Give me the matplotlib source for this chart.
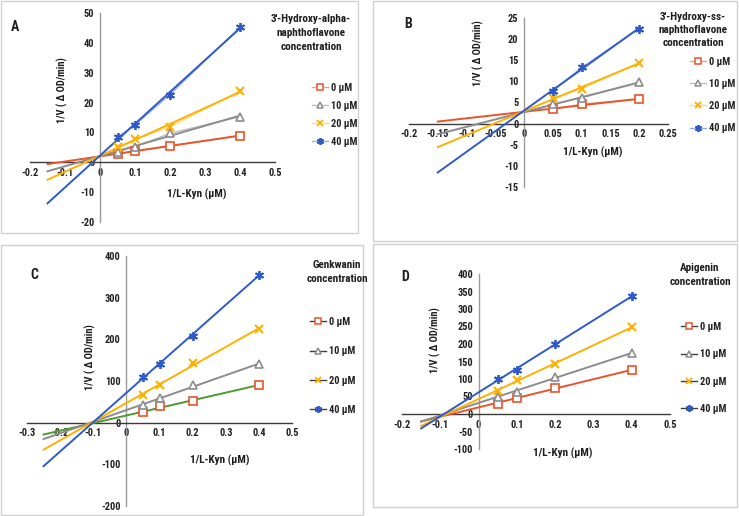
import numpy as np
import matplotlib
matplotlib.use("Agg")
import matplotlib.pyplot as plt
from matplotlib.lines import Line2D
from matplotlib.patches import Rectangle
from matplotlib.ticker import FuncFormatter
from matplotlib import font_manager

# ---------------- data ----------------
conc_labels = ["0 µM", "10 µM", "20 µM", "40 µM"]

# Panel A: 3'-Hydroxy-alpha-naphthoflavone
a_x = [0.05, 0.1, 0.2, 0.4]
a_0 = [2.7, 3.9, 5.5, 8.9]
a_10 = [3.5, 5.2, 9.7, 15.3]
a_20 = [5.2, 7.7, 11.9, 23.9]
a_40 = [8.4, 12.5, 22.7, 45.3]

# Panel B: 3'-Hydroxy-ss-naphthoflavone
b_x = [0.05, 0.1, 0.2]
b_0 = [3.4, 4.6, 5.8]
b_10 = [4.6, 6.1, 9.8]
b_20 = [6.0, 8.3, 14.4]
b_40 = [7.7, 13.3, 22.5]

# Panel C: Genkwanin
c_x = [0.05, 0.1, 0.2, 0.4]
c_0 = [25, 39, 51, 91]
c_10 = [42, 58, 90, 140]
c_20 = [67, 91, 143, 224]
c_40 = [110, 141, 208, 355]

# Panel D: Apigenin
d_x = [0.05, 0.1, 0.2, 0.4]
d_0 = [30, 47, 75, 125]
d_10 = [50, 64, 107, 173]
d_20 = [67, 97, 143, 248]
d_40 = [100, 126, 199, 337]

# ---------------- style ----------------
W, H = 739, 516
names = {f.name for f in font_manager.fontManager.ttflist}
cands = ["Roboto Condensed", "Liberation Sans Narrow", "Open Sans Condensed",
         "Noto Sans Condensed", "Lato"]
FAM = [c for c in cands if c in names][:1] or ["Lato"]
plt.rcParams["font.family"] = FAM + ["DejaVu Sans"]
narrow = FAM[0] != "Lato"
S = 1.0 if narrow else 0.85

fig = plt.figure(figsize=(W / 100, H / 100), dpi=100)

C_RED = "#E8552B"
C_GRAY = "#8C8C8C"
C_YEL = "#FFB000"
C_BLUE = "#2E5BC9"
C_GREEN = "#4E9A2E"
LIGHT = {C_RED: "#F3A07E", C_GRAY: "#BDBDBD", C_YEL: "#FFD97A", C_BLUE: "#93AEE8"}
STAR = (6, 2, 0)


def fx(x):
    return x / W


def fy(y):
    return 1 - y / H


def make_ax(px_left, px_top, px_right, px_bottom, xlim, ylim, xticks, yticks):
    ax = fig.add_axes([fx(px_left), fy(px_bottom), (px_right - px_left) / W,
                       (px_bottom - px_top) / H])
    ax.set_xlim(*xlim)
    ax.set_ylim(*ylim)
    ax.set_xticks(xticks)
    ax.set_yticks(yticks)
    ax.spines["left"].set_position(("data", 0))
    ax.spines["bottom"].set_position(("data", 0))
    ax.spines["right"].set_visible(False)
    ax.spines["top"].set_visible(False)
    ax.spines["left"].set_color("#9A9A9A")
    ax.spines["bottom"].set_color("#3A3A3A")
    ax.spines["left"].set_linewidth(1.0)
    ax.spines["bottom"].set_linewidth(1.0)
    ax.tick_params(length=0, labelsize=7.5 * S, colors="#222222", pad=4)
    ax.xaxis.set_major_formatter(FuncFormatter(lambda v, p: f"{v:g}"))
    ax.yaxis.set_major_formatter(FuncFormatter(lambda v, p: f"{v:g}"))
    for lab in ax.get_xticklabels() + ax.get_yticklabels():
        lab.set_fontweight("semibold")
    ax.patch.set_alpha(0)
    return ax


def draw_series(ax, x, ys, x0, trend_colors, marker_colors, series_line):
    markers = ["s", "^", "x", STAR]
    for y, tc, mc, m in zip(ys, trend_colors, marker_colors, markers):
        k, b = np.polyfit(x, y, 1)
        xx = np.array([x0, max(x)])
        if series_line:
            ax.plot(x, y, color=LIGHT.get(mc, mc), lw=1.0, zorder=2)
        ax.plot(xx, k * xx + b, color=tc, lw=1.4, zorder=3)
        if m in ("s", "^"):
            ax.plot(x, y, ls="none", marker=m, ms=5.5, mfc="white", mec=mc, mew=1.2, zorder=4)
        elif m == "x":
            ax.plot(x, y, ls="none", marker=m, ms=6, mec=mc, mew=1.5, zorder=4)
        else:
            ax.plot(x, y, ls="none", marker=m, ms=6.5, mec=mc, mew=1.3, zorder=4)


def legend_handles(marker_colors, line_colors):
    markers = ["s", "^", "x", STAR]
    hs = []
    for mc, lc, m in zip(marker_colors, line_colors, markers):
        if m in ("s", "^"):
            hs.append(Line2D([], [], color=lc, lw=1.0, marker=m, ms=5, mfc="white",
                             mec=mc, mew=1.1))
        else:
            hs.append(Line2D([], [], color=lc, lw=1.0, marker=m, ms=5, mec=mc, mew=1.3))
    return hs


def add_legend(ax, handles, px_x, px_y, spacing_px):
    fs = 7.5 * S
    lsp = (spacing_px - fs * 1.39) / (fs * 1.39)
    leg = ax.legend(handles, conc_labels, loc="upper left",
                    bbox_to_anchor=(fx(px_x), fy(px_y)), bbox_transform=fig.transFigure,
                    frameon=False, fontsize=fs, handlelength=1.5, handletextpad=0.3,
                    labelspacing=lsp, borderpad=0, borderaxespad=0)
    for t in leg.get_texts():
        t.set_fontweight("bold")
        t.set_color("#222222")


def frame(x0, y0, x1, y1):
    fig.patches.append(Rectangle((fx(x0), fy(y1)), (x1 - x0) / W, (y1 - y0) / H,
                                 transform=fig.transFigure, fill=False,
                                 edgecolor="#D0D0D0", lw=1.0))


def txt(x, y, s, size, **kw):
    fig.text(fx(x), fy(y), s, fontsize=size * S, fontweight="bold", color="#1E1E1E", **kw)


mcols = [C_RED, C_GRAY, C_YEL, C_BLUE]
TITLE_FS = 8
XL_FS = 8
YL_FS = 7.5
LET_FS = 10

# frames
frame(1, 1, 358, 233)
frame(373, 1, 737, 241)
frame(1, 245, 363, 515)
frame(373, 244, 737, 507)

# ---------- Panel A ----------
axA = make_ax(30, 13, 275, 222, (-0.2, 0.5), (-20, 50),
              [-0.2, -0.1, 0, 0.1, 0.2, 0.3, 0.4, 0.5], [-20, -10, 0, 10, 20, 30, 40, 50])
draw_series(axA, a_x, [a_0, a_10, a_20, a_40], -0.15, mcols, mcols, True)
add_legend(axA, legend_handles(mcols, [LIGHT[c] for c in mcols]), 312, 83, 18.3)
txt(11, 27, "A", LET_FS, ha="left", va="center")
txt(311, 33, "3'-Hydroxy-alpha-\nnaphthoflavone\nconcentration", TITLE_FS,
    ha="center", va="center", linespacing=1.45)
txt(62, 90, "1/V ( Δ OD/min)", YL_FS, rotation=90, ha="center", va="center")
txt(197, 194, "1/L-Kyn (µM)", XL_FS, ha="center", va="center")

# ---------- Panel B ----------
axB = make_ax(409, 18, 668, 187, (-0.2, 0.25), (-15, 25),
              [-0.2, -0.15, -0.1, -0.05, 0, 0.05, 0.1, 0.15, 0.2, 0.25],
              [-15, -10, -5, 0, 5, 10, 15, 20, 25])
draw_series(axB, b_x, [b_0, b_10, b_20, b_40], -0.15, mcols, mcols, True)
add_legend(axB, legend_handles(mcols, [LIGHT[c] for c in mcols]), 690, 57, 22.5)
txt(404, 24, "B", LET_FS, ha="left", va="center")
txt(693, 30, "3'-Hydroxy-ss-\nnaphthoflavone\nconcentration", TITLE_FS,
    ha="center", va="center", linespacing=1.4)
txt(478, 53, "1/V ( Δ OD/min)", YL_FS, rotation=90, ha="center", va="center")
txt(593, 152, "1/L-Kyn (µM)", XL_FS, ha="center", va="center")

# ---------- Panel C ----------
axC = make_ax(27, 256, 292, 506, (-0.3, 0.5), (-200, 400),
              [-0.3, -0.2, -0.1, 0, 0.1, 0.2, 0.3, 0.4, 0.5],
              [-200, -100, 0, 100, 200, 300, 400])
draw_series(axC, c_x, [c_0, c_10, c_20, c_40], -0.25,
            [C_GREEN, C_GRAY, C_YEL, C_BLUE], mcols, False)
add_legend(axC, legend_handles(mcols, ["#404040"] * 4), 310, 317, 29.7)
txt(30, 275, "C", LET_FS, ha="left", va="center")
txt(337, 272, "Genkwanin\nconcentration", TITLE_FS,
    ha="center", va="center", linespacing=1.45)
txt(90, 357, "1/V ( Δ OD/min)", YL_FS, rotation=90, ha="center", va="center")
txt(220, 460, "1/L-Kyn (µM)", XL_FS, ha="center", va="center")

# ---------- Panel D ----------
axD = make_ax(402, 274, 670, 449, (-0.2, 0.5), (-100, 400),
              [-0.2, -0.1, 0, 0.1, 0.2, 0.3, 0.4, 0.5],
              [-100, -50, 0, 50, 100, 150, 200, 250, 300, 350, 400])
draw_series(axD, d_x, [d_0, d_10, d_20, d_40], -0.15, mcols, mcols, False)
add_legend(axD, legend_handles(mcols, ["#404040"] * 4), 681, 322, 27.7)
txt(401, 277, "D", LET_FS, ha="left", va="center")
txt(700, 275, "Apigenin\nconcentration", TITLE_FS,
    ha="center", va="center", linespacing=1.45)
txt(435, 340, "1/V ( Δ OD/min)", YL_FS, rotation=90, ha="center", va="center")
txt(563, 453, "1/L-Kyn (µM)", XL_FS, ha="center", va="center")

fig.savefig("out.png", dpi=100, facecolor="white")
